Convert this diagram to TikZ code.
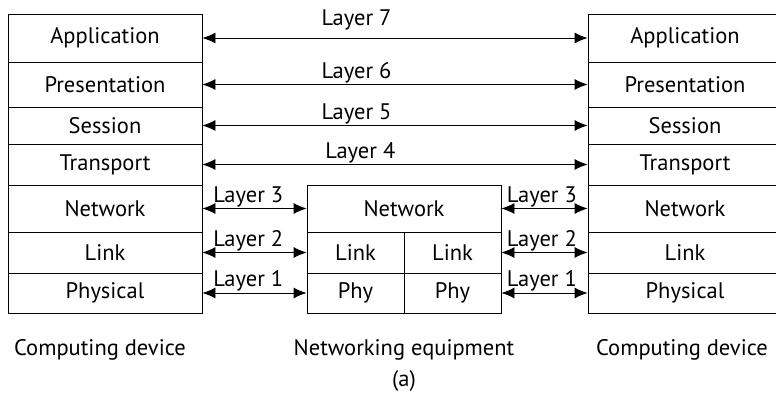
\documentclass[tikz,border=0pt]{standalone}
\usepackage{fontspec}
\setmainfont{PT Sans}
\usetikzlibrary{arrows.meta}

\begin{document}
\begin{tikzpicture}[x=1pt, y=-1pt, >={Latex[length=13pt,width=11pt]},
        font=\fontsize{22.5}{27}\selectfont,
        box/.style={rectangle, draw, line width=0.9pt, inner sep=0pt, minimum width=194pt},
        half/.style={rectangle, draw, line width=0.9pt, inner sep=0pt, minimum width=97pt},
        arrow/.style={<->, line width=0.9pt},
        lbl/.style={above, inner sep=1pt}
    ]
        \useasboundingbox (0,0) rectangle (776,396);

        % Left computing device
        \node (appL)   [box, minimum height=48pt] at (105,38)    {Application};
        \node (presL)  [box, minimum height=45pt] at (105,84.5)  {Presentation};
        \node (sessL)  [box, minimum height=37pt] at (105,125.5) {Session};
        \node (transL) [box, minimum height=41pt] at (105,164.5) {Transport};
        \node (netL)   [box, minimum height=47pt] at (105,208.5) {Network};
        \node (linkL)  [box, minimum height=41pt] at (105,252.5) {Link};
        \node (phyL)   [box, minimum height=40pt] at (105,293)   {Physical};

        % Right computing device
        \node (appR)   [box, minimum height=48pt] at (685,38)    {Application};
        \node (presR)  [box, minimum height=45pt] at (685,84.5)  {Presentation};
        \node (sessR)  [box, minimum height=37pt] at (685,125.5) {Session};
        \node (transR) [box, minimum height=41pt] at (685,164.5) {Transport};
        \node (netR)   [box, minimum height=47pt] at (685,208.5) {Network};
        \node (linkR)  [box, minimum height=41pt] at (685,252.5) {Link};
        \node (phyR)   [box, minimum height=40pt] at (685,293)   {Physical};

        % Networking equipment
        \node (netM)   [box, minimum height=47pt] at (404,208.5) {Network};
        \node (linkM1) [half, minimum height=41pt] at (355.5,252.5) {Link};
        \node (linkM2) [half, minimum height=41pt] at (452.5,252.5) {Link};
        \node (phyM1)  [half, minimum height=40pt] at (355.5,293)   {Phy};
        \node (phyM2)  [half, minimum height=40pt] at (452.5,293)   {Phy};

        % Captions
        \node (devL)  at (100,350) {Computing device};
        \node (equip) at (404,350) {Networking equipment};
        \node (fig)   at (404,381) {(a)};
        \node (devR)  at (682,350) {Computing device};

        % End-to-end layers
        \draw[arrow] (appL) -- (appR) node[lbl, pos=0.4, yshift=6pt] {Layer 7};
        \draw[arrow] (presL) -- (presR) node[lbl, pos=0.4] {Layer 6};
        \draw[arrow] (sessL) -- (sessR) node[lbl, pos=0.4] {Layer 5};
        \draw[arrow] (transL) -- (transR) node[lbl, pos=0.41] {Layer 4};

        % Hop-by-hop layers
        \draw[arrow] (netL) -- (netM) node[lbl, pos=0.44] {Layer 3};
        \draw[arrow] (linkL.east) -- (linkM1.west) node[lbl, pos=0.44] {Layer 2};
        \draw[arrow] (phyL) -- (phyM1) node[lbl, pos=0.44] {Layer 1};
        \draw[arrow] (netM) -- (netR) node[lbl, pos=0.47] {Layer 3};
        \draw[arrow] (linkM2) -- (linkR) node[lbl, pos=0.47] {Layer 2};
        \draw[arrow] (phyM2) -- (phyR) node[lbl, pos=0.47] {Layer 1};

    \end{tikzpicture}
\end{document}
